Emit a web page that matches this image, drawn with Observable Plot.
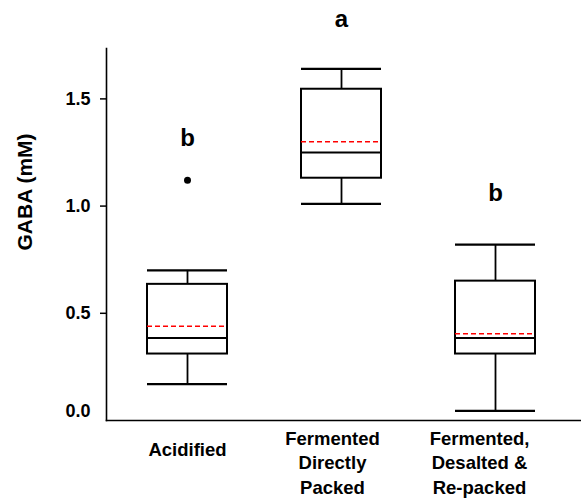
<!DOCTYPE html>
<html><head><meta charset="utf-8">
<script src="https://cdn.jsdelivr.net/npm/d3@7"></script>
<script src="https://cdn.jsdelivr.net/npm/@observablehq/plot@0.6"></script>
<style>body{margin:0;background:#fff} svg{font-family:"Liberation Sans",Arial,sans-serif;}</style>
</head><body><div id="chart"></div>
<script>
const categories = ["Acidified", "Fermented\nDirectly\nPacked", "Fermented,\nDesalted &\nRe-packed"];
const lowerWhisker = [0.17, 1.01, 0.045];
const q1 = [0.31, 1.13, 0.31];
const median = [0.385, 1.25, 0.385];
const mean = [0.44, 1.30, 0.405];
const q3 = [0.635, 1.545, 0.65];
const upperWhisker = [0.70, 1.64, 0.82];
const outlierCategory = ["Acidified"];
const outlierValue = [1.12];
const letters = ["b", "a", "b"];
const letterY = [1.315, 1.87, 1.06];
const yTicks = [0, 0.5, 1.0, 1.5];
const yLabel = "GABA (mM)";

const data = categories.map((c, i) => ({
  cat: c, lo: lowerWhisker[i], q1: q1[i], med: median[i], mean: mean[i],
  q3: q3[i], hi: upperWhisker[i], letter: letters[i], ly: letterY[i]
}));
const outliers = outlierCategory.map((c, i) => ({cat: c, v: outlierValue[i]}));

const yFont = {fontSize: 18, fontWeight: "bold"};
const xFont = {fontSize: 18.5, fontWeight: "bold", lineHeight: 1.32, tickSize: 0, label: null};
const plot = Plot.plot({
  width: 581, height: 498,
  marginLeft: 106, marginRight: 0, marginTop: 48, marginBottom: 78,
  style: {fontFamily: '"Liberation Sans", Arial, sans-serif', color: "black", background: "white"},
  x: {domain: categories, range: [108.6, 572.9], paddingInner: 0.483, paddingOuter: 0.2415},
  y: {domain: [0, 1.735]},
  marks: [
    Plot.frame({anchor: "left", stroke: "black", strokeWidth: 1.6}),
    Plot.frame({anchor: "bottom", stroke: "black", strokeWidth: 1.6}),
    Plot.axisY(yTicks.filter(d => d > 0), {tickSize: 6, tickPadding: 10, tickFormat: d => d.toFixed(1), label: null, ...yFont, strokeWidth: 1.5}),
    Plot.axisY(yTicks.filter(d => d === 0), {tickSize: 0, tickPadding: 16, tickFormat: d => d.toFixed(1), label: null, dy: -9, ...yFont}),
    Plot.axisX([categories[0]], {tickPadding: 18, ...xFont}),
    Plot.axisX([categories[1]], {tickPadding: 7, dx: -9, ...xFont}),
    Plot.axisX([categories[2]], {tickPadding: 7, dx: -16, ...xFont}),
    Plot.text([yLabel], {frameAnchor: "left", rotate: -90, dx: -81, dy: 16, fontSize: 21, fontWeight: "bold"}),
    Plot.ruleX(data, {x: "cat", y1: "lo", y2: "q1", stroke: "black", strokeWidth: 1.8}),
    Plot.ruleX(data, {x: "cat", y1: "q3", y2: "hi", stroke: "black", strokeWidth: 1.8}),
    Plot.barY(data, {x: "cat", y1: "q1", y2: "q3", fill: "white", stroke: "black", strokeWidth: 2}),
    Plot.tickY(data, {x: "cat", y: "lo", stroke: "black", strokeWidth: 2.2}),
    Plot.tickY(data, {x: "cat", y: "hi", stroke: "black", strokeWidth: 2.2}),
    Plot.tickY(data, {x: "cat", y: "med", stroke: "black", strokeWidth: 2}),
    Plot.tickY(data, {x: "cat", y: "mean", stroke: "#ff0000", strokeWidth: 1.5, strokeDasharray: "5,3"}),
    Plot.dot(outliers, {x: "cat", y: "v", r: 3.5, fill: "black"}),
    Plot.text(data, {x: "cat", y: "ly", text: "letter", fontSize: 24, fontWeight: "bold"})
  ]
});
document.getElementById("chart").appendChild(plot);
</script>
</body></html>
